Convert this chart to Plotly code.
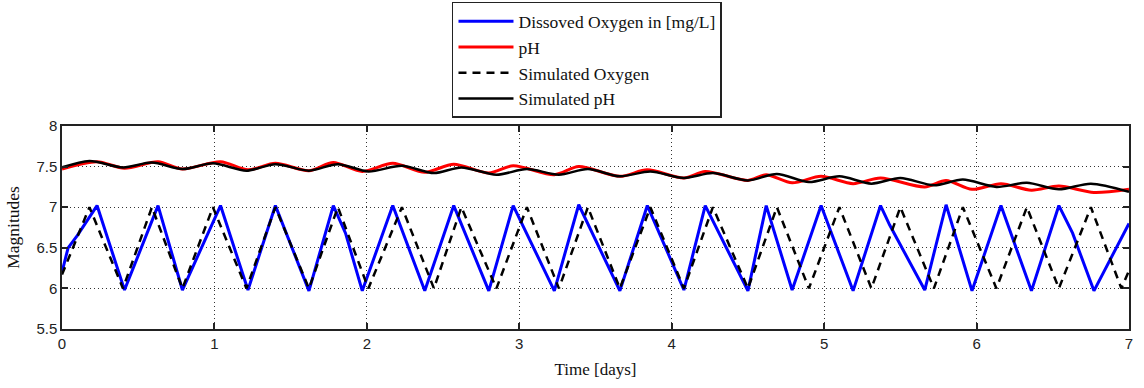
import plotly.graph_objects as go

# Dissolved oxygen (measured)
do_t = [0, 0.04, 0.10, 0.23, 0.41, 0.63, 0.79, 1.04, 1.22, 1.40, 1.62, 1.78, 1.86, 1.97, 2.17, 2.38,
        2.57, 2.80, 2.96, 3.23, 3.39, 3.66, 3.84, 4.08, 4.22, 4.50, 4.62, 4.79, 4.98, 5.19, 5.37,
        5.43, 5.66, 5.80, 5.97, 6.16, 6.36, 6.54, 6.63, 6.77, 7.0]
do_v = [6.2, 6.5, 6.65, 7.02, 5.98, 7.02, 5.98, 7.02, 5.98, 7.02, 5.97, 7.02, 6.68, 5.97, 7.02, 5.97,
        7.02, 5.97, 7.02, 5.97, 7.03, 5.97, 7.02, 5.98, 7.02, 5.97, 7.02, 5.98, 7.02, 5.97, 7.02,
        6.78, 5.98, 7.03, 5.97, 7.02, 5.97, 7.02, 6.68, 5.97, 6.8]

# Measured pH
ph_t = [0, 0.23, 0.41, 0.63, 0.79, 1.04, 1.22, 1.40, 1.62, 1.78, 1.97, 2.17, 2.38, 2.57, 2.80, 2.96,
        3.23, 3.39, 3.66, 3.84, 4.08, 4.22, 4.50, 4.62, 4.79, 4.98, 5.19, 5.37, 5.66, 5.80, 5.97,
        6.16, 6.36, 6.54, 6.77, 7.0]
ph_v = [7.47, 7.56, 7.48, 7.56, 7.47, 7.56, 7.46, 7.54, 7.45, 7.55, 7.44, 7.54, 7.43, 7.53, 7.42, 7.51,
        7.40, 7.50, 7.38, 7.46, 7.36, 7.44, 7.33, 7.40, 7.30, 7.38, 7.29, 7.36, 7.25, 7.33, 7.22,
        7.29, 7.21, 7.26, 7.18, 7.22]

# Simulated oxygen
so_t = [0, 0.18, 0.40, 0.59, 0.79, 0.99, 1.21, 1.40, 1.62, 1.81, 2.01, 2.23, 2.44, 2.62, 2.85, 3.05,
        3.26, 3.45, 3.66, 3.86, 4.08, 4.27, 4.50, 4.69, 4.90, 5.10, 5.31, 5.50, 5.72, 5.91, 6.13,
        6.33, 6.54, 6.75, 6.95, 7.0]
so_v = [6.17, 7.0, 6.0, 7.0, 6.0, 7.0, 6.0, 7.0, 6.0, 7.0, 6.0, 7.0, 6.0, 7.0, 6.0, 7.0,
        6.0, 7.0, 6.0, 7.0, 6.0, 7.0, 6.0, 7.0, 6.0, 7.0, 6.0, 7.0, 6.0, 7.0, 6.0,
        7.0, 6.0, 7.0, 6.0, 6.22]

# Simulated pH
sp_t = [0, 0.18, 0.40, 0.59, 0.79, 0.99, 1.21, 1.40, 1.62, 1.81, 2.01, 2.23, 2.44, 2.62, 2.85, 3.05,
        3.26, 3.45, 3.66, 3.86, 4.08, 4.27, 4.50, 4.69, 4.90, 5.10, 5.31, 5.50, 5.72, 5.91, 6.13,
        6.33, 6.54, 6.75, 7.0]
sp_v = [7.49, 7.57, 7.49, 7.55, 7.47, 7.54, 7.45, 7.53, 7.45, 7.53, 7.44, 7.51, 7.42, 7.49, 7.40, 7.47,
        7.40, 7.47, 7.38, 7.44, 7.36, 7.42, 7.33, 7.41, 7.31, 7.38, 7.29, 7.36, 7.27, 7.34, 7.25,
        7.30, 7.22, 7.29, 7.19]

x_ticks = [0, 1, 2, 3, 4, 5, 6, 7]
y_ticks = [5.5, 6, 6.5, 7, 7.5, 8]
y_tick_text = ["5.5", "6", "6.5", "7", "7.5", "8"]

fig = go.Figure()
fig.add_trace(go.Scatter(x=do_t, y=do_v, mode="lines", name="Dissoved Oxygen in [mg/L]",
                         line=dict(color="#0000ff", width=3)))
fig.add_trace(go.Scatter(x=ph_t, y=ph_v, mode="lines", name="pH",
                         line=dict(color="#ff0000", width=3, shape="spline", smoothing=0.8)))
fig.add_trace(go.Scatter(x=so_t, y=so_v, mode="lines", name="Simulated Oxygen",
                         line=dict(color="#000000", width=2.5, dash="8px,6px")))
fig.add_trace(go.Scatter(x=sp_t, y=sp_v, mode="lines", name="Simulated pH",
                         line=dict(color="#000000", width=2.5, shape="spline", smoothing=0.8)))

axis_common = dict(
    showline=True, linecolor="#222222", linewidth=1.5, mirror="ticks",
    ticks="inside", ticklen=6, tickcolor="#222222", tickwidth=1.5,
    showgrid=True, gridcolor="#333333", gridwidth=1, griddash="1px,3px",
    zeroline=False,
    tickfont=dict(family="Liberation Sans", size=15, color="#222222"),
)

fig.update_xaxes(range=[0, 7], tickvals=x_ticks, ticktext=[str(v) for v in x_ticks],
                 title=dict(text="Time [days]", font=dict(family="Liberation Serif", size=17, color="#111111"),
                            standoff=12),
                 **axis_common)
fig.update_yaxes(range=[5.5, 8], tickvals=y_ticks, ticktext=y_tick_text,
                 title=dict(text="Magnitudes", font=dict(family="Liberation Serif", size=17.5, color="#111111"),
                            standoff=12),
                 **axis_common)

fig.update_layout(
    width=1144, height=388,
    margin=dict(l=62, r=15, t=126, b=59, autoexpand=False),
    plot_bgcolor="white", paper_bgcolor="white",
    showlegend=True,
    legend=dict(x=0.3655, y=1.611, xanchor="left", yanchor="top",
                bgcolor="white", bordercolor="#222222", borderwidth=1.5,
                font=dict(family="Liberation Serif", size=17.5, color="#111111"),
                itemwidth=55, tracegroupgap=0),
)

fig.write_html("out.html", config={"displayModeBar": False},
               post_script="document.body.style.margin='0px';")
